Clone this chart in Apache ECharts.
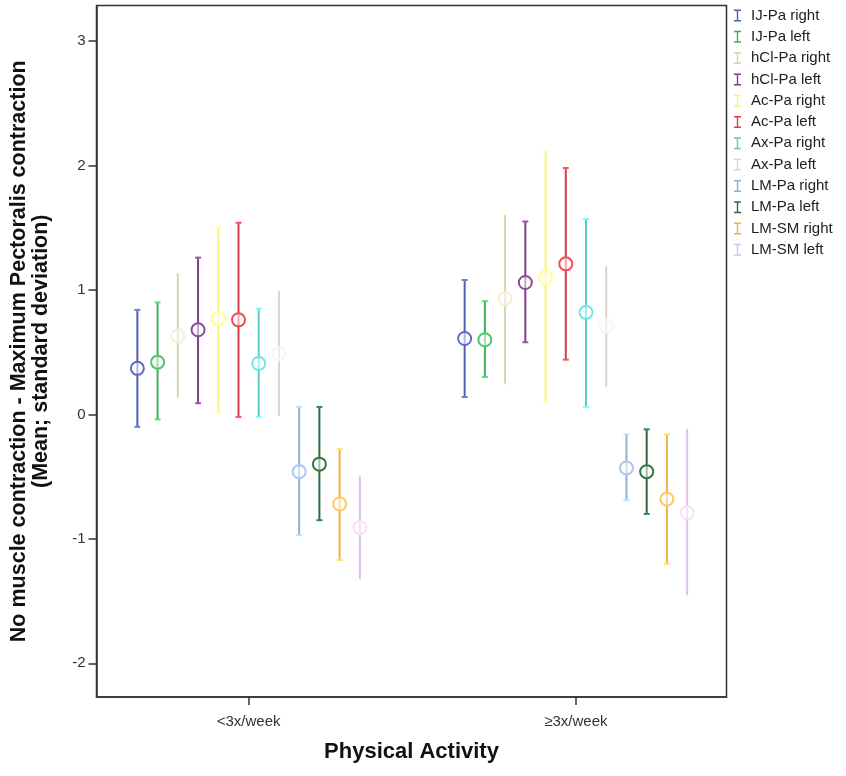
<!DOCTYPE html>
<html>
<head>
<meta charset="utf-8">
<script src="https://cdn.jsdelivr.net/npm/echarts@6/dist/echarts.min.js"></script>
<style>
  html, body { margin: 0; padding: 0; background: #fff; }
  #error-bar-chart { width: 846px; height: 776px; }
</style>
</head>
<body>
<div id="error-bar-chart"></div>
<script>
// groups on the x axis
const categories = ['<3x/week', '\u22653x/week']
const seriesNames = [
  'IJ-Pa right', 'IJ-Pa left', 'hCl-Pa right', 'hCl-Pa left',
  'Ac-Pa right', 'Ac-Pa left', 'Ax-Pa right', 'Ax-Pa left',
  'LM-Pa right', 'LM-Pa left', 'LM-SM right', 'LM-SM left'
]
const yTicks = [-2, -1, 0, 1, 2, 3]

// <3x/week : mean and mean -/+ 1 SD
const meanLess3 = [0.37, 0.42, 0.63, 0.68, 0.77, 0.76, 0.41, 0.49, -0.46, -0.40, -0.72, -0.91]
const lowerLess3 = [-0.10, -0.04, 0.13, 0.09, 0.02, -0.02, -0.02, -0.02, -0.97, -0.85, -1.17, -1.33]
const upperLess3 = [0.84, 0.90, 1.14, 1.26, 1.50, 1.54, 0.85, 1.00, 0.06, 0.06, -0.28, -0.49]

// >=3x/week
const meanMore3 = [0.61, 0.60, 0.93, 1.06, 1.10, 1.21, 0.82, 0.71, -0.43, -0.46, -0.68, -0.79]
const lowerMore3 = [0.14, 0.30, 0.24, 0.58, 0.10, 0.44, 0.06, 0.21, -0.69, -0.80, -1.20, -1.46]
const upperMore3 = [1.08, 0.91, 1.61, 1.55, 2.11, 1.98, 1.57, 1.20, -0.16, -0.12, -0.16, -0.11]

const colors = [
  '#4f5fb3', '#3fae5a', '#d6d2b0', '#7e3f88', '#f8f17a', '#d63f4a',
  '#5ccaca', '#d6d6d6', '#93afd0', '#2a6a3e', '#f0b04a', '#dcc0e6'
]

// spread of the clustered bars around each category tick (axis units)
const slot = 0.0618
const groups = [
  { mean: meanLess3, lower: lowerLess3, upper: upperLess3 },
  { mean: meanMore3, lower: lowerMore3, upper: upperMore3 }
]

const renderItem = (params, api) => {
  const x = api.value(0)
  const top = api.coord([x, api.value(3)])
  const bottom = api.coord([x, api.value(2)])
  const mid = api.coord([x, api.value(1)])
  const color = api.visual('color')
  const dark = echarts.color.lift(color, -0.3)
  const capHalf = 3
  return {
    type: 'group',
    children: [
      {
        type: 'line',
        shape: { x1: top[0], y1: top[1], x2: bottom[0], y2: bottom[1] },
        style: { stroke: color, lineWidth: 2 }
      },
      {
        type: 'line',
        shape: { x1: top[0] - capHalf, y1: top[1], x2: top[0] + capHalf, y2: top[1] },
        style: { stroke: dark, lineWidth: 2 }
      },
      {
        type: 'line',
        shape: { x1: bottom[0] - capHalf, y1: bottom[1], x2: bottom[0] + capHalf, y2: bottom[1] },
        style: { stroke: dark, lineWidth: 2 }
      },
      {
        type: 'circle',
        shape: { cx: mid[0], cy: mid[1], r: 6.5 },
        style: { fill: 'rgba(255,255,255,0.55)', stroke: echarts.color.lift(color, -0.15), lineWidth: 2 }
      }
    ]
  }
}

const series = seriesNames.map((name, i) => ({
  name,
  type: 'custom',
  renderItem,
  itemStyle: { color: colors[i] },
  encode: { x: 0, y: [1, 2, 3] },
  data: groups.map((g, c) => [c + (i - 5.5) * slot, g.mean[i], g.lower[i], g.upper[i]])
}))

const option = {
  animation: false,
  textStyle: { fontFamily: 'Liberation Sans, Arial, sans-serif' },
  legend: {
    orient: 'vertical',
    left: 734,
    top: 8,
    padding: 0,
    itemWidth: 7,
    itemHeight: 12,
    itemGap: 6.3,
    icon: 'path://M0,0 H7 V1.5 H4.2 V10.5 H7 V12 H0 V10.5 H2.8 V1.5 H0 Z',
    textStyle: { fontSize: 15, color: '#222', lineHeight: 15, padding: [0, 0, 0, 5] },
    data: seriesNames
  },
  grid: {
    left: 96.5,
    top: 5.5,
    right: 119.5,
    bottom: 79,
    show: true,
    borderColor: '#333',
    borderWidth: 1.5,
    containLabel: false,
    outerBoundsMode: 'none'
  },
  xAxis: {
    type: 'value',
    min: -0.4648,
    max: 1.4602,
    name: 'Physical Activity',
    nameLocation: 'middle',
    nameGap: 44,
    nameTextStyle: { fontWeight: 'bold', fontSize: 22, color: '#111' },
    splitLine: { show: false },
    axisLine: { onZero: false, lineStyle: { color: '#333', width: 1.5 } },
    axisTick: { customValues: [0, 1], length: 8, lineStyle: { color: '#333', width: 1.5 } },
    axisLabel: {
      customValues: [0, 1],
      formatter: v => categories[Math.round(v)],
      margin: 17,
      fontSize: 15,
      color: '#333'
    }
  },
  yAxis: {
    type: 'value',
    min: -2.271,
    max: 3.286,
    name: 'No muscle contraction - Maximum Pectoralis contraction\n(Mean; standard deviation)',
    nameLocation: 'middle',
    nameGap: 44,
    nameRotate: 90,
    nameTextStyle: { fontWeight: 'bold', fontSize: 21.5, lineHeight: 22, color: '#111' },
    splitLine: { show: false },
    axisLine: { show: true, onZero: false, lineStyle: { color: '#333', width: 1.5 } },
    axisTick: { show: true, customValues: yTicks, length: 8, lineStyle: { color: '#333', width: 1.5 } },
    axisLabel: { customValues: yTicks, margin: 11, fontSize: 15, color: '#333' }
  },
  series
}

const chart = echarts.init(document.getElementById('error-bar-chart'))
chart.setOption(option)
window.onresize = () => chart.resize()
</script>
</body>
</html>
